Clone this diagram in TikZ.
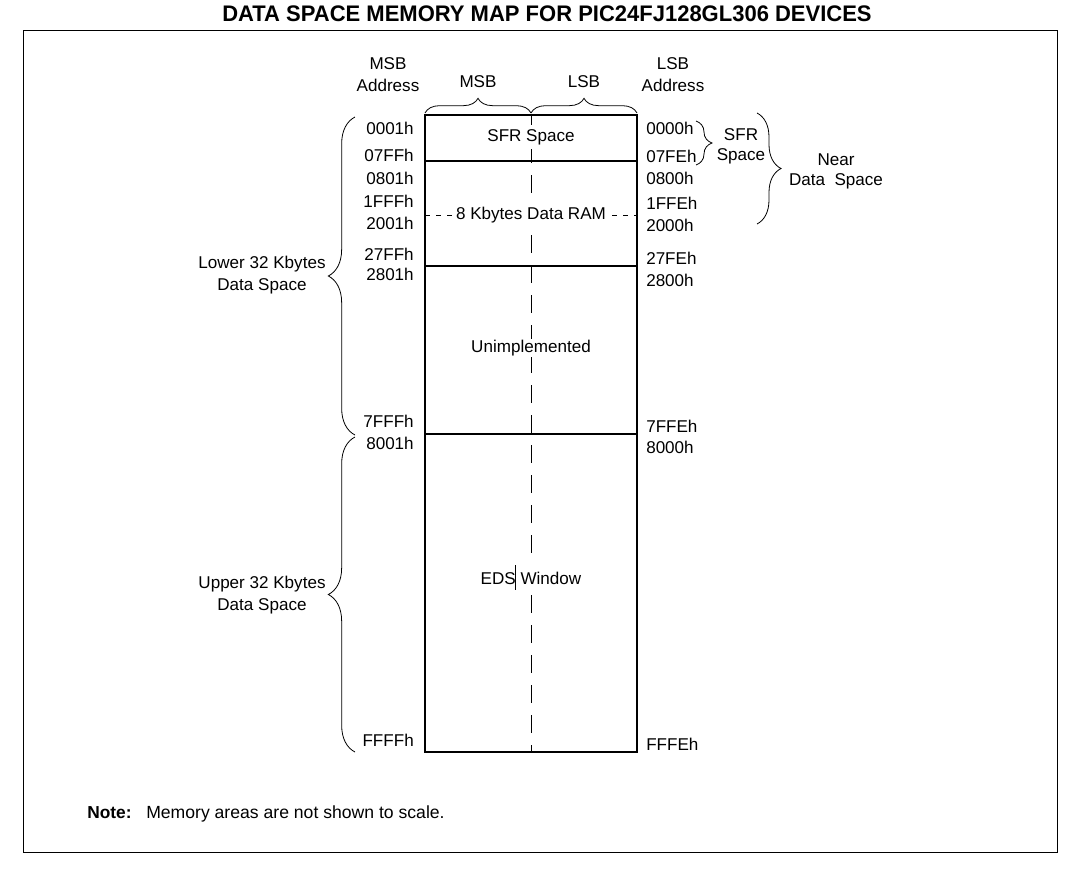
\documentclass[tikz,border=0pt]{standalone}
\usepackage{fontspec}
\setmainfont{Liberation Sans}
\usetikzlibrary{decorations.pathreplacing}

\tikzset{
  addr/.style={font=\fontsize{12.8}{15}\selectfont, inner sep=0pt},
  lbl/.style={font=\fontsize{12.8}{16.5}\selectfont, align=center, inner sep=0pt},
  area/.style={font=\fontsize{12.8}{15}\selectfont, fill=white, inner sep=3pt},
  brc/.style={decorate, decoration={brace, amplitude=#1}, line width=0.6pt},
  cut/.style={dash pattern=on 13.5pt off 9pt, line width=0.6pt}
}

\begin{document}
\begin{tikzpicture}[x=0.75pt, y=-0.75pt]
  \useasboundingbox (0,0) rectangle (1079,869);
  % title and frame
  \node (title) at (547,14) {\resizebox{487pt}{11.8pt}{\bfseries DATA SPACE MEMORY MAP FOR PIC24FJ128GL306 DEVICES}};
  \draw[line width=0.6pt] (23,30) rectangle (1057,852);

  % memory block
  \draw[cut] (531,115) -- (531,752);
  \draw[dash pattern=on 3.75pt off 4.5pt, line width=0.6pt] (425,215) -- (637,215);
  \draw[line width=0.8pt] (425,115) rectangle (637,752);
  \draw[line width=0.8pt] (425,161) -- (637,161);
  \draw[line width=0.8pt] (425,266) -- (637,266);
  \draw[line width=0.8pt] (425,434) -- (637,434);
  \node[area] (sfr) at (531,137) {SFR Space};
  \node[area, inner ysep=7pt] (ram) at (531,215) {8 Kbytes Data RAM};
  \node[area, inner ysep=1pt] (unimp) at (531,348) {Unimplemented};
  \node[area, inner ysep=5pt] (eds) at (531,578) {EDS Window};
  \draw[line width=0.6pt] (515.5,565) -- (515.5,590);

  % column heads
  \node[lbl] (msbaddr) at (388,75) {MSB\\Address};
  \node[lbl] (lsbaddr) at (673,75) {LSB\\Address};
  \node[lbl] (msb) at (478,82) {MSB};
  \node[lbl] (lsb) at (584,82) {LSB};
  \draw[brc=11pt] (425,113) -- (531,113);
  \draw[brc=11pt] (531,113) -- (637,113);

  % MSB addresses
  \foreach \a/\y in {0001h/128, 07FFh/155, 0801h/178, 1FFFh/201, 2001h/223,
                     27FFh/254, 2801h/274, 7FFFh/421, 8001h/443, FFFFh/740}
    \node[addr, anchor=east] (m\a) at (414,\y) {\a};
  % LSB addresses
  \foreach \a/\y in {0000h/128, 07FEh/156, 0800h/178, 1FFEh/203, 2000h/225,
                     27FEh/258, 2800h/280, 7FFEh/426, 8000h/447, FFFEh/744}
    \node[addr, anchor=west] (l\a) at (646,\y) {\a};

  % left braces
  \coordinate (lowtop) at (355,117);
  \coordinate (lowbot) at (355,435);
  \coordinate (uptop) at (355,437);
  \coordinate (upbot) at (355,752);
  \draw[brc=20pt] (lowbot) -- (lowtop);
  \draw[brc=20pt] (upbot) -- (uptop);
  \node[lbl] (lower) at (262,275) {Lower 32 Kbytes\\Data Space};
  \node[lbl] (upper) at (262,595) {Upper 32 Kbytes\\Data Space};

  % right braces
  \coordinate (sfrtop) at (696,121);
  \coordinate (sfrbot) at (696,165);
  \coordinate (neartop) at (757,113);
  \coordinate (nearbot) at (757,224);
  \draw[brc=12pt] (sfrtop) -- (sfrbot);
  \draw[brc=18pt] (neartop) -- (nearbot);
  \node[lbl, font=\fontsize{12.8}{15}\selectfont] (sfrlbl) at (741,146) {SFR\\Space};
  \node[lbl, font=\fontsize{12.8}{15}\selectfont] (near) at (836,171) {Near\\Data\ \ Space};

  % note
  \node[addr, anchor=base west, font=\fontsize{13}{15}\selectfont\bfseries] (notehd) at (87,818) {Note:};
  \node[addr, anchor=base west, font=\fontsize{13.2}{15}\selectfont] (note) at (146,818) {Memory areas are not shown to scale.};
\end{tikzpicture}
\end{document}
